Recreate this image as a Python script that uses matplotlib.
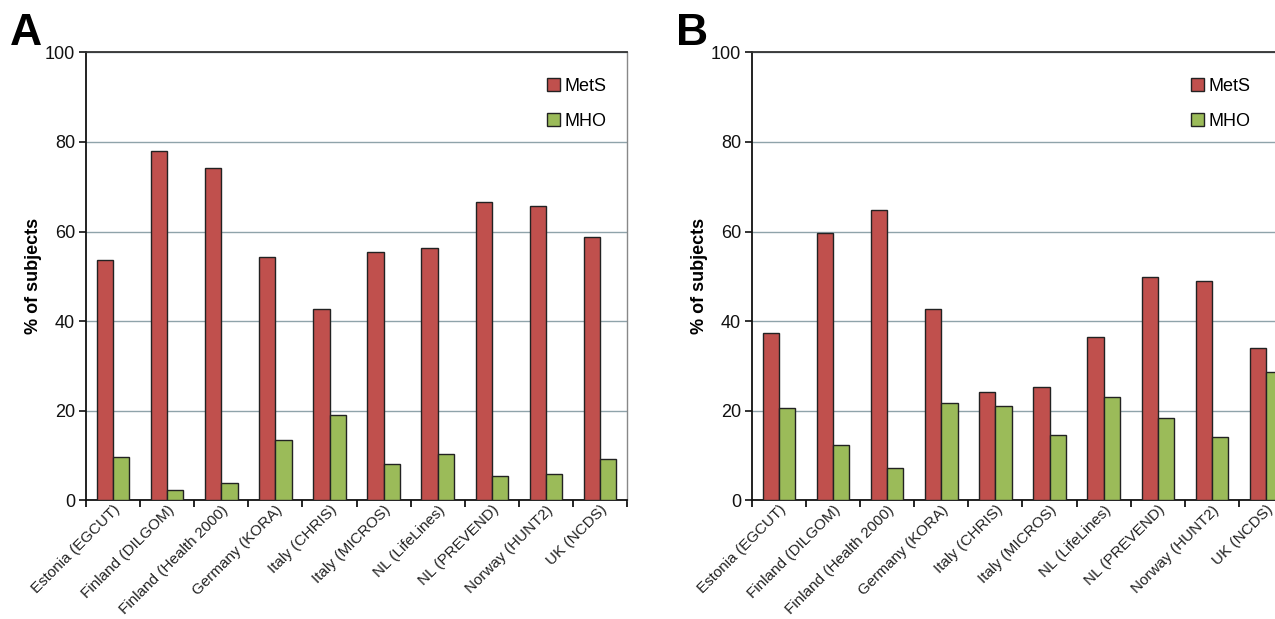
import numpy as np
import matplotlib
matplotlib.use("Agg")
import matplotlib.pyplot as plt

plt.rcParams["font.family"] = ["Liberation Sans", "DejaVu Sans"]

cohorts = ["Estonia (EGCUT)", "Finland (DILGOM)", "Finland (Health 2000)",
           "Germany (KORA)", "Italy (CHRIS)", "Italy (MICROS)", "NL (LifeLines)",
           "NL (PREVEND)", "Norway (HUNT2)", "UK (NCDS)"]

# panel A
mets_a = [53.6, 78.1, 74.3, 54.4, 42.6, 55.4, 56.3, 66.7, 65.8, 58.8]
mho_a = [9.7, 2.2, 3.7, 13.4, 18.9, 8.0, 10.3, 5.4, 5.9, 9.1]
# panel B
mets_b = [37.3, 59.6, 64.8, 42.6, 24.1, 25.2, 36.4, 49.8, 48.9, 33.9]
mho_b = [20.6, 12.4, 7.2, 21.6, 21.1, 14.5, 23.0, 18.4, 14.0, 28.5]

red = "#C0504D"
green = "#9BBB59"
grid_col = "#8FA3AA"

fig = plt.figure(figsize=(12.75, 6.19), dpi=100)
fig.patch.set_facecolor("white")

def draw_panel(ax, mets, mho, letter):
    x = np.arange(len(cohorts))
    w = 0.3
    ax.bar(x - 0.15, mets, w, color=red, edgecolor="#222222", linewidth=1.0,
           label="MetS", zorder=3)
    ax.bar(x + 0.15, mho, w, color=green, edgecolor="#222222", linewidth=1.0,
           label="MHO", zorder=3)
    ax.set_xlim(-0.5, len(cohorts) - 0.5)
    ax.set_ylim(0, 100)
    ax.set_yticks([0, 20, 40, 60, 80, 100])
    ax.yaxis.grid(True, color=grid_col, linewidth=1.0, zorder=0)
    ax.set_axisbelow(True)
    ax.tick_params(axis="y", direction="out", length=5, width=1.2,
                   labelsize=13, colors="#111111", pad=3)
    # ticks at category boundaries, labels at centres
    ax.set_xticks(np.arange(-0.5, len(cohorts)), minor=False)
    ax.set_xticklabels([])
    ax.set_xticks(x, minor=True)
    ax.set_xticklabels(cohorts, minor=True, rotation=45, ha="right",
                       rotation_mode="anchor", fontsize=11, color="#222222")
    ax.tick_params(axis="x", which="major", direction="out", length=5, width=1.2)
    ax.tick_params(axis="x", which="minor", length=0, pad=2)
    for s in ["left", "bottom"]:
        ax.spines[s].set_color("#111111")
        ax.spines[s].set_linewidth(1.3)
    ax.spines["top"].set_color("#333333")
    ax.spines["top"].set_linewidth(1.3)
    ax.spines["right"].set_color("#888888")
    ax.spines["right"].set_linewidth(1.0)
    ax.set_ylabel("% of subjects", fontsize=13, fontweight="bold", labelpad=2)
    leg = ax.legend(loc="upper right", bbox_to_anchor=(0.975, 0.96), frameon=False,
                    fontsize=13, handlelength=0.7, handleheight=0.7,
                    handletextpad=0.25, labelspacing=1.0, borderaxespad=0)
    for h in leg.legend_handles:
        h.set_edgecolor("#222222")
    ax.text(-0.14, 1.017, letter, transform=ax.transAxes, fontsize=32,
            fontweight="bold", ha="left", va="baseline")

ax_a = fig.add_axes([0.0675, 0.1922, 0.4243, 0.723])
draw_panel(ax_a, mets_a, mho_a, "A")
ax_b = fig.add_axes([0.5898, 0.1922, 0.4243, 0.723])
draw_panel(ax_b, mets_b, mho_b, "B")
ax_b.legend_.set_bbox_to_anchor((0.935, 0.96))

fig.savefig("out.png", dpi=100, facecolor="white")
